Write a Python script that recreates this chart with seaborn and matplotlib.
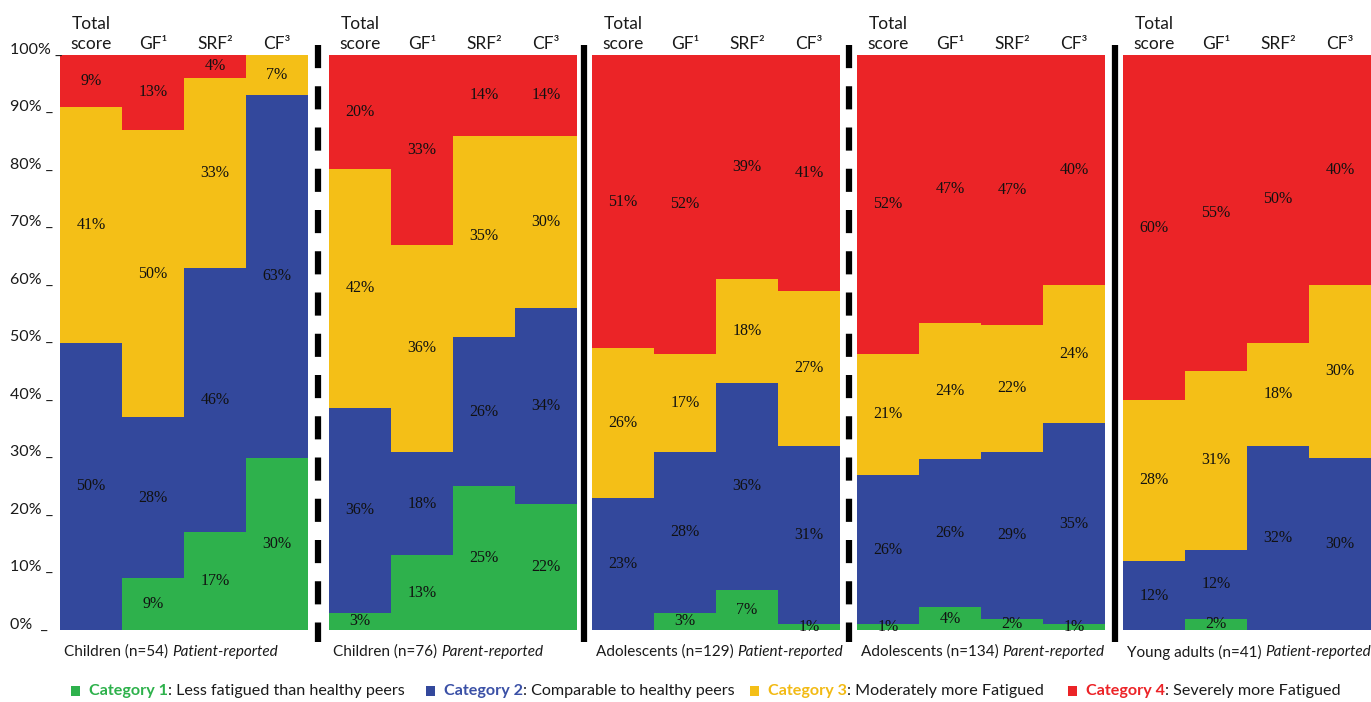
import pandas as pd
import seaborn as sns
import matplotlib.pyplot as plt
from matplotlib.lines import Line2D
from matplotlib.patches import Rectangle

# === Data ===
metrics = ["Total\nscore", "GF¹", "SRF²", "CF³"]
groups = ["Children (n=54)", "Children (n=76)", "Adolescents (n=129)",
          "Adolescents (n=134)", "Young adults (n=41)"]
reporters = ["Patient-reported", "Parent-reported", "Patient-reported",
             "Parent-reported", "Patient-reported"]

# one row per panel, one value per metric
cat1 = [[0, 9, 17, 30], [3, 13, 25, 22], [0, 3, 7, 1], [1, 4, 2, 1], [0, 2, 0, 0]]
cat2 = [[50, 28, 46, 63], [36, 18, 26, 34], [23, 28, 36, 31], [26, 26, 29, 35], [12, 12, 32, 30]]
cat3 = [[41, 50, 33, 7], [42, 36, 35, 30], [26, 17, 18, 27], [21, 24, 22, 24], [28, 31, 18, 30]]
cat4 = [[9, 13, 4, 0], [20, 33, 14, 14], [51, 52, 39, 41], [52, 47, 47, 40], [60, 55, 50, 40]]

cat_names = ["Category 1", "Category 2", "Category 3", "Category 4"]
cat_desc = [": Less fatigued than healthy peers", ": Comparable to healthy peers",
            ": Moderately more Fatigued", ": Severely more Fatigued"]
separators = ["dashed", "solid", "dashed", "solid"]

bar_colors = ["#2EB14C", "#33489C", "#F4BF17", "#EB2427"]
text_colors = ["#2DB14B", "#3A50A6", "#F2BA14", "#EC2327"]

# === Long table with stacked bottoms / tops (normalised to 100%) ===
rows = []
for p in range(len(groups)):
    for j, m in enumerate(metrics):
        vals = [cat1[p][j], cat2[p][j], cat3[p][j], cat4[p][j]]
        tot = sum(vals)
        cum = 0.0
        for k, v in enumerate(vals):
            lo = cum
            cum += v / tot * 100
            rows.append(dict(panel=p, metric=m, cat=k, value=v, bottom=lo, top=cum))
df = pd.DataFrame(rows)

# === Style ===
sns.set_style("white")
plt.rcParams["font.family"] = ["Lato", "DejaVu Sans"]
plt.rcParams["text.color"] = "#1a1a1a"

W, H = 1371, 702
fig = plt.figure(figsize=(W / 100, H / 100), dpi=100)

panel_left = [60, 329, 592, 857, 1123]
panel_w = 248
y_top, y_bot = 55, 630

axes = []
for p in range(len(groups)):
    ax = fig.add_axes([panel_left[p] / W, (H - y_bot) / H, panel_w / W, (y_bot - y_top) / H])
    axes.append(ax)
    # overlay cumulative bars, highest category first
    for k in reversed(range(4)):
        sub = df[(df["panel"] == p) & (df["cat"] == k)]
        sns.barplot(data=sub, x="metric", y="top", order=metrics, color=bar_colors[k],
                    saturation=1, width=1, linewidth=0, errorbar=None, ax=ax)
    pdf = df[(df["panel"] == p) & (df["value"] > 0)]
    for _, r in pdf.iterrows():
        ax.text(metrics.index(r["metric"]), (r["bottom"] + r["top"]) / 2, f"{r['value']}%",
                ha="center", va="center", fontsize=11.5, family="Liberation Serif", color="#111111")
    for j, m in enumerate(metrics):
        ax.annotate(m, (j, 100), xytext=(0, 2), textcoords="offset points",
                    ha="center", va="bottom", fontsize=12.5, linespacing=1.3, annotation_clip=False)
    ax.set_xlim(-0.5, 3.5)
    ax.set_ylim(0, 100)
    ax.axis("off")

# y labels (left aligned, with the underscore "tick")
for v in range(0, 101, 10):
    lab = f"{v}% _" if v > 0 else "0%  _"
    axes[0].annotate(lab, (0, v), xycoords=("figure fraction", "data"),
                     xytext=(10 * 0.72, 1), textcoords="offset points",
                     ha="left", va="baseline", fontsize=11.5, annotation_clip=False)

# separators between panels
sep_x = [318, 584, 849, 1115]
for x, style in zip(sep_x, separators):
    ln = Line2D([x / W, x / W], [1 - 45 / H, 1 - 642 / H], transform=fig.transFigure,
                color="black", linewidth=4.5, solid_capstyle="butt", dash_capstyle="butt")
    if style == "dashed":
        ln.set_linestyle((0, (3.7, 2.9)))
    fig.add_artist(ln)

fig.canvas.draw()
renderer = fig.canvas.get_renderer()


def put_runs(x_px, y_px, runs, size):
    for txt, color, weight, style, gap in runs:
        t = fig.text(x_px / W, 1 - y_px / H, txt, color=color, fontweight=weight,
                     fontstyle=style, fontsize=size, ha="left", va="center")
        bb = t.get_window_extent(renderer)
        x_px = bb.x1 + gap


# captions below panels
for p in range(len(groups)):
    put_runs(panel_left[p] + 4, 652,
             [(groups[p], "#1a1a1a", "normal", "normal", 4),
              (reporters[p], "#1a1a1a", "normal", "italic", 0)], 11)

# legend row
sq_x = [71, 426, 750, 1068]
for k in range(4):
    fig.add_artist(Rectangle((sq_x[k] / W, 1 - 696 / H), 9 / W, 10 / H,
                             transform=fig.transFigure, color=bar_colors[k], lw=0))
    put_runs(sq_x[k] + 18, 691,
             [(cat_names[k], text_colors[k], "bold", "normal", 0),
              (cat_desc[k], "#1a1a1a", "normal", "normal", 0)], 11.6)

plt.savefig("out.png", dpi=100)
